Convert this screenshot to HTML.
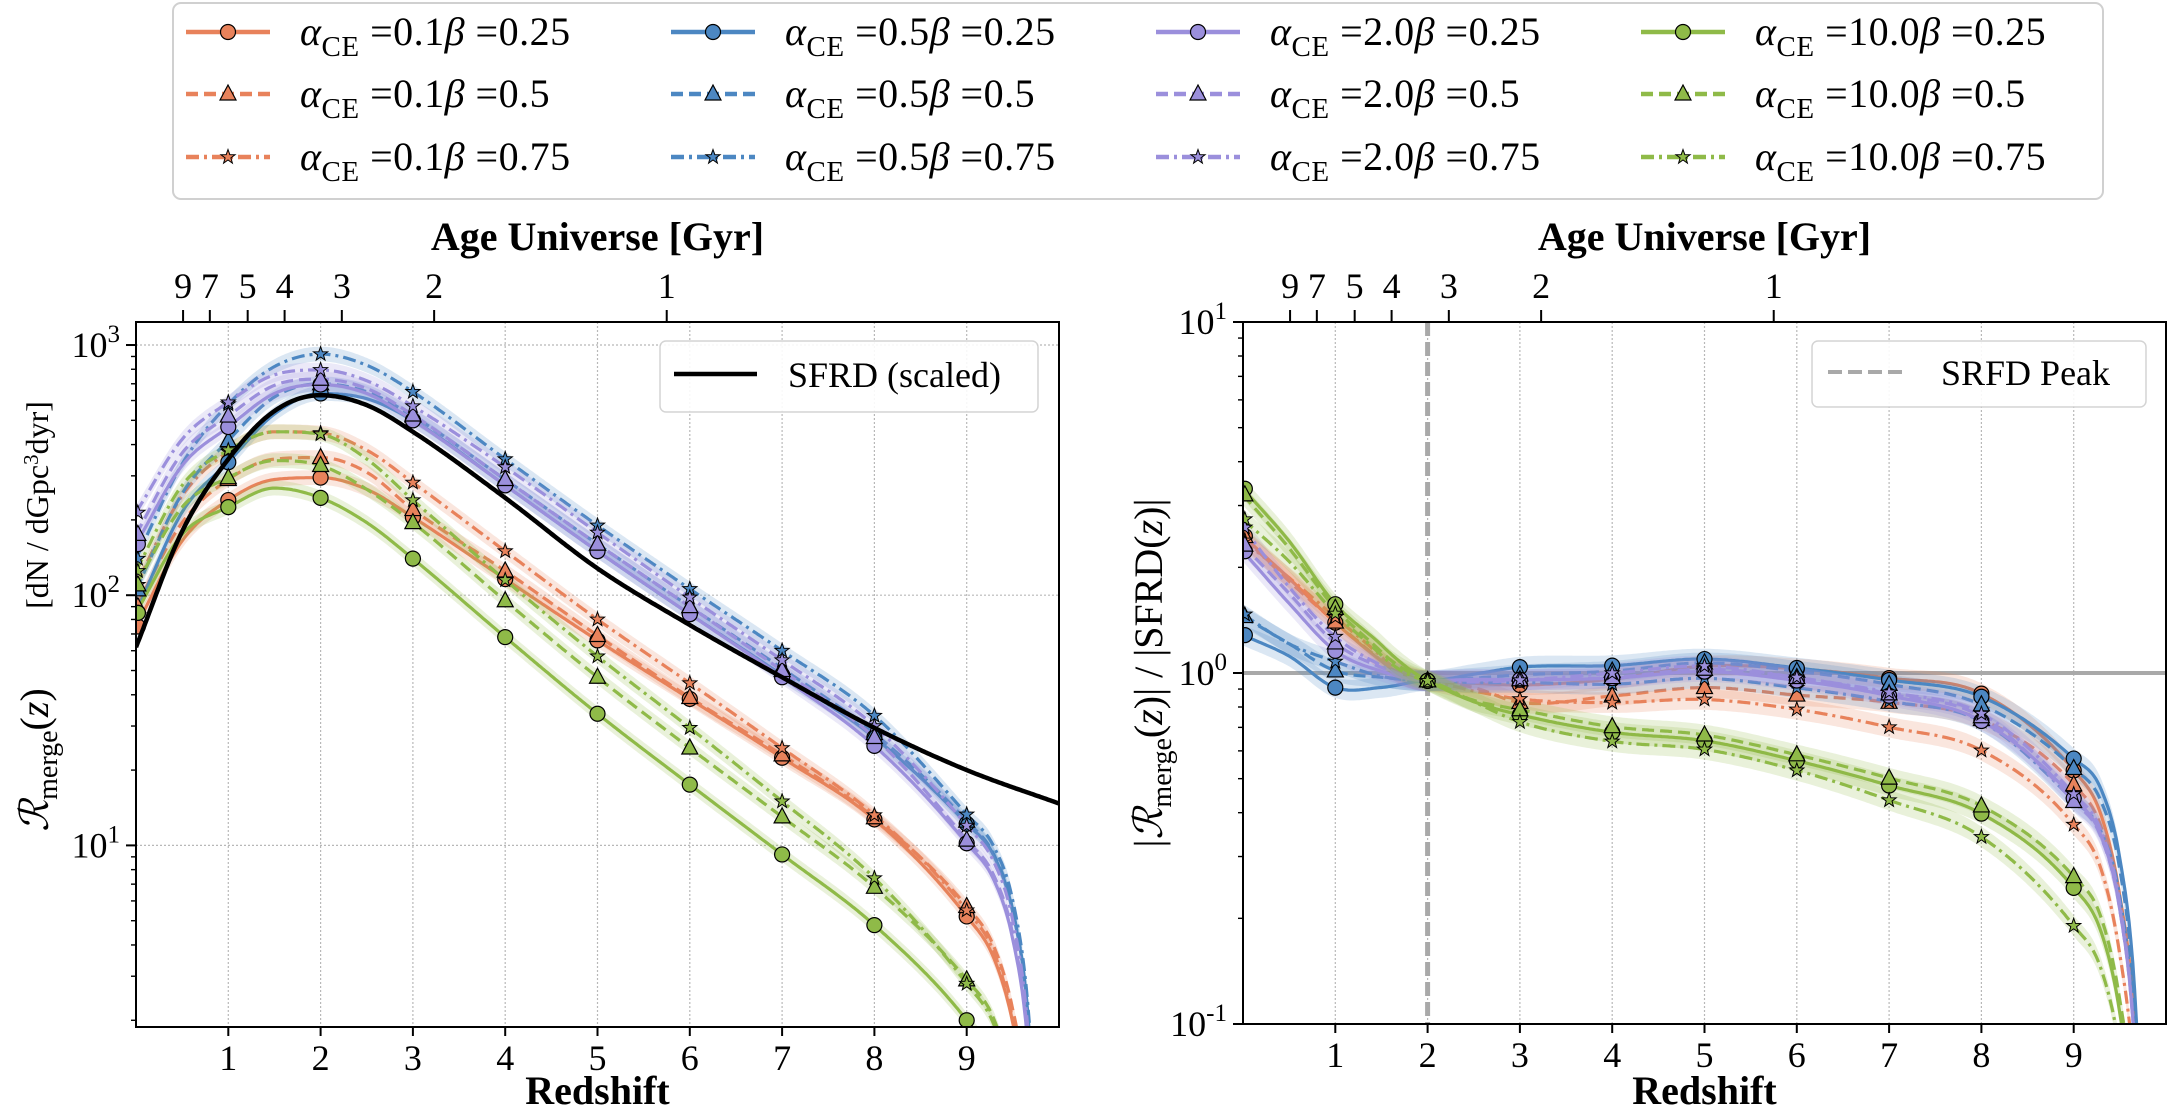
<!DOCTYPE html>
<html><head><meta charset="utf-8"><style>
html,body{margin:0;padding:0;background:#fff;width:2167px;height:1120px;overflow:hidden;}
svg{display:block;font-family:"Liberation Serif",serif;}
</style></head><body>
<svg id="chart" width="2167" height="1120" viewBox="0 0 2167 1120" xmlns="http://www.w3.org/2000/svg">
<defs>
<clipPath id="clipL"><rect x="136" y="322" width="923" height="705"/></clipPath>
<clipPath id="clipR"><rect x="1243" y="322" width="923" height="702"/></clipPath>
</defs>
<g id="root"></g>
</svg>
<script>
// ---- data ----
const zGrid = [0,0.5,1,1.5,2,2.5,3,4,5,6,7,8,9,9.3,9.5,9.65,9.75];
const sfrdZ = [0,0.5,1,1.5,2,2.5,3,4,5,6,7,8,9,10];
const sfrdVals = [62,180,350,545,630,575,450,245,128,76,47,29.5,20,14.7];
const seriesNames = ['a0.1-b0.25','a0.1-b0.5','a0.1-b0.75','a0.5-b0.25','a0.5-b0.5','a0.5-b0.75','a2.0-b0.25','a2.0-b0.5','a2.0-b0.75','a10.0-b0.25','a10.0-b0.5','a10.0-b0.75'];
const orange025 = [75,165,240,290,295,265,205,116,66,38.5,22.4,12.7,5.2,3.5,1.95,0.9,0.3];
const orange050 = [90,195,290,350,355,310,220,125,69,39,23,12.9,5.7,3.9,2.2,1.0,0.3];
const orange075 = [110,250,375,450,445,380,282,150,80,44.5,24.5,13.2,5.5,3.7,2.0,0.9,0.3];
const blue025 = [85,215,340,530,640,610,500,275,150,84,48,27,12.2,9,5.4,2.4,0.7];
const blue050 = [105,255,415,620,700,650,520,290,160,90,51,28,12.5,9.1,5.5,2.4,0.7];
const blue075 = [140,335,580,820,920,830,650,350,190,106,60,33,13.3,9.8,6,2.6,0.8];
const purple025 = [160,330,470,640,695,640,500,275,150,84,47,25,10.2,7.2,4.2,1.8,0.5];
const purple050 = [175,370,520,690,730,670,525,290,160,90,50,27,10.5,7.5,4.4,1.9,0.55];
const purple075 = [214,420,590,760,795,720,570,325,178,98,55,30,12,8.5,5,2.1,0.6];
const green025 = [85,175,225,268,245,195,140,68,33.6,17.5,9.2,4.8,2.0,1.35,0.75,0.33,0.1];
const green050 = [110,225,295,345,330,265,195,95,47,24.5,13,6.8,2.9,2.0,1.1,0.5,0.15];
const green075 = [125,275,380,450,440,350,240,115,57,29.5,15,7.4,2.8,1.9,1.05,0.45,0.13];
const markerZ = [1,2,3,4,5,6,7,8,9];
const ageLabels = ['9','7','5','4','3','2','1'];
const ageZ = [0.51,0.80,1.21,1.61,2.23,3.23,5.75];
const xTicks = [1,2,3,4,5,6,7,8,9];
const ratioNorm = 0.95;

const COLORS = {o:'#e8825b', b:'#4c87c2', p:'#9b8fdc', g:'#8fba48'};
const groups = [
 {key:'o', label:'0.1', vals:[orange025,orange050,orange075]},
 {key:'b', label:'0.5', vals:[blue025,blue050,blue075]},
 {key:'p', label:'2.0', vals:[purple025,purple050,purple075]},
 {key:'g', label:'10.0', vals:[green025,green050,green075]}
];
const betas = ['0.25','0.5','0.75'];
const dashes = ['', '12,6', '13,5,3,5'];
const shapes = ['circle','triangle','star'];

// ---- axes ----
const L = {x0:136, x1:1059, y0:1027, y1:322, lmin:Math.log10(1.88), lmax:3.092};
const R = {x0:1243, x1:2166, y0:1024, y1:322, lmin:-1, lmax:1};
const xs = (A,z)=>A.x0 + (z/10)*(A.x1-A.x0);
const ys = (A,v)=>A.y0 - (Math.log10(v)-A.lmin)/(A.lmax-A.lmin)*(A.y0-A.y1);

const NS='http://www.w3.org/2000/svg';
const root=document.getElementById('root');
function el(tag, attrs, parent){const e=document.createElementNS(NS,tag);for(const k in attrs)e.setAttribute(k,attrs[k]);(parent||root).appendChild(e);return e;}

function interp(X,Y){
 const n=X.length, ly=Y.map(v=>Math.log10(v)), d=[], m=[];
 for(let i=0;i<n-1;i++) d.push((ly[i+1]-ly[i])/(X[i+1]-X[i]));
 m[0]=d[0]; m[n-1]=d[n-2];
 for(let i=1;i<n-1;i++){ m[i]= (d[i-1]*d[i]<=0)?0:(d[i-1]+d[i])/2; }
 for(let i=0;i<n-1;i++){ if(d[i]===0){m[i]=m[i+1]=0;continue;} const a=m[i]/d[i], b=m[i+1]/d[i], s=a*a+b*b; if(s>9){const t=3/Math.sqrt(s); m[i]=t*a*d[i]; m[i+1]=t*b*d[i];} }
 return z=>{ let i=0; while(i<n-2 && z>X[i+1]) i++; const h=X[i+1]-X[i], t=(z-X[i])/h, t2=t*t, t3=t2*t;
  const v=(2*t3-3*t2+1)*ly[i]+(t3-2*t2+t)*h*m[i]+(-2*t3+3*t2)*ly[i+1]+(t3-t2)*h*m[i+1]; return Math.pow(10,v); };
}
const sfrdF = interp(sfrdZ, sfrdVals);
const zmaxS = zGrid[zGrid.length-1];
function samples(zmax){const a=[];for(let z=0;z<=zmax+1e-9;z+=0.02)a.push(z);return a;}

function marker(shape, cx, cy, color, parent, name){
 let e;
 if(shape==='circle') e=el('circle',{cx:cx,cy:cy,r:7.5,fill:color,stroke:'#000','stroke-width':1.2},parent);
 else if(shape==='triangle') e=el('polygon',{points:`${cx},${cy-9} ${cx-8},${cy+6} ${cx+8},${cy+6}`,fill:color,stroke:'#000','stroke-width':1.2},parent);
 else { const p=[]; for(let k=0;k<10;k++){const r=k%2?3:7.5, a=-Math.PI/2+k*Math.PI/5; p.push((cx+r*Math.cos(a)).toFixed(1)+','+(cy+r*Math.sin(a)).toFixed(1));}
  e=el('polygon',{points:p.join(' '),fill:color,stroke:'#000','stroke-width':1},parent); }
 
 
 return e;
}

function axisFrame(A, side){
 const g=el('g',{});
 
 
 xTicks.forEach(t=>{ const l=el('line',{x1:xs(A,t),x2:xs(A,t),y1:A.y1,y2:A.y0,stroke:'#b8b8b8','stroke-width':1.2,'stroke-dasharray':'2,2'},g);
  
   });
 xTicks.forEach(t=>{ el('line',{x1:xs(A,t),x2:xs(A,t),y1:A.y0,y2:A.y0+9,stroke:'#000','stroke-width':2},g);
  const tx=el('text',{x:xs(A,t),y:A.y0+43,'font-size':36,'text-anchor':'middle'},g); tx.textContent=t;
  
   });
 ageZ.forEach((z,i)=>{ el('line',{x1:xs(A,z),x2:xs(A,z),y1:A.y1,y2:A.y1-12,stroke:'#000','stroke-width':2},g);
  const tx=el('text',{x:xs(A,z),y:A.y1-24,'font-size':36,'text-anchor':'middle'},g); tx.textContent=ageLabels[i];
  
   });
 for(let k=Math.floor(A.lmin);k<=Math.ceil(A.lmax);k++){
  for(let m=1;m<10;m++){ const v=m*Math.pow(10,k), lv=Math.log10(v); if(lv<A.lmin-1e-6||lv>A.lmax+1e-6) continue;
   const y=ys(A,v); el('line',{x1:A.x0,x2:A.x0-(m===1?10:5),y1:y,y2:y,stroke:'#000','stroke-width':m===1?2:1.4},g);
   if(m===1){ const tx=el('text',{x:A.x0-16,y:y+12,'font-size':36,'text-anchor':'end'},g);
    tx.innerHTML='10<tspan dy="-15" font-size="25">'+k+'</tspan>';
    
     }
  }
 }
 const xl=el('text',{x:(A.x0+A.x1)/2,y:1104,'font-size':40,'font-weight':'bold','text-anchor':'middle'},g); xl.textContent='Redshift';
 
 
 const tl=el('text',{x:(A.x0+A.x1)/2,y:250,'font-size':40,'font-weight':'bold','text-anchor':'middle'},g); tl.textContent='Age Universe [Gyr]';
 
 
 return g;
}

axisFrame(L,'left');
axisFrame(R,'right');
[10,100,1000].forEach(v=>{ const l=el('line',{x1:L.x0,x2:L.x1,y1:ys(L,v),y2:ys(L,v),stroke:'#b8b8b8','stroke-width':1.2,'stroke-dasharray':'2,2'});
 
  });

const ref1=el('line',{x1:R.x0,x2:R.x1,y1:ys(R,1),y2:ys(R,1),stroke:'#a9a9a9','stroke-width':4});


const peak=el('line',{x1:xs(R,2),x2:xs(R,2),y1:R.y1,y2:R.y0,stroke:'#a9a9a9','stroke-width':5,'stroke-dasharray':'14,6'});



const gL=el('g',{'clip-path':'url(#clipL)'});


const gR=el('g',{'clip-path':'url(#clipR)'});



const s2 = sfrdF(2);
const zs = samples(zmaxS);
groups.forEach(G=>{
 const color=COLORS[G.key];
 G.vals.forEach((vals,bi)=>{
  const f=interp(zGrid,vals), r2=f(2);
  const ratio=z=>ratioNorm*(f(z)/r2)/(sfrdF(z)/s2);
  [[L,gL,f,'left'],[R,gR,ratio,'right']].forEach(([A,g,fn,side])=>{
   const up=zs.map(z=>xs(A,z).toFixed(1)+','+ys(A,fn(z)*1.07).toFixed(1));
   const dn=zs.slice().reverse().map(z=>xs(A,z).toFixed(1)+','+ys(A,fn(z)/1.07).toFixed(1));
   const band=el('polygon',{points:up.concat(dn).join(' '),fill:color,opacity:0.2},g);
   
   
   const pl=el('polyline',{points:zs.map(z=>xs(A,z).toFixed(1)+','+ys(A,fn(z)).toFixed(1)).join(' '),fill:'none',stroke:color,'stroke-width':3.2,'stroke-dasharray':dashes[bi]},g);
   
   
  });
 });
});
groups.forEach(G=>{
 const color=COLORS[G.key];
 G.vals.forEach((vals,bi)=>{
  const f=interp(zGrid,vals), r2=f(2);
  [0].concat(markerZ).forEach(z=>{
   const zz = z===0?0.02:z;
   marker(shapes[bi], xs(L,zz), ys(L,f(z)), color, gL, 'left-marker');
   marker(shapes[bi], xs(R,zz), ys(R,ratioNorm*(f(z)/r2)/(sfrdF(z)/s2)), color, gR, 'right-marker');
  });
 });
});
const zsS=samples(10);
const sl=el('polyline',{points:zsS.map(z=>xs(L,z).toFixed(1)+','+ys(L,sfrdF(z)).toFixed(1)).join(' '),fill:'none',stroke:'#000','stroke-width':4.5},gL);



[L,R].forEach((A,i)=>{ const f=el('rect',{x:A.x0,y:A.y1,width:A.x1-A.x0,height:A.y0-A.y1,fill:'none',stroke:'#000','stroke-width':2});
 
  });

const lg1=el('g',{});


el('rect',{x:660,y:341,width:378,height:71,rx:6,fill:'#fff',stroke:'#d0d0d0','stroke-width':1.5,opacity:0.9},lg1);
el('line',{x1:674,x2:757,y1:374,y2:374,stroke:'#000','stroke-width':4.5},lg1);
const lt1=el('text',{x:788,y:387,'font-size':36},lg1); lt1.textContent='SFRD (scaled)';
const lg2=el('g',{});


el('rect',{x:1812,y:341,width:334,height:66,rx:6,fill:'#fff',stroke:'#d0d0d0','stroke-width':1.5,opacity:0.9},lg2);
el('line',{x1:1828,x2:1905,y1:372,y2:372,stroke:'#a9a9a9','stroke-width':4,'stroke-dasharray':'14,6'},lg2);
const lt2=el('text',{x:1941,y:385,'font-size':36},lg2); lt2.textContent='SRFD Peak';

const yt1=el('text',{transform:'translate(48,760) rotate(-90)','font-size':40,'text-anchor':'middle'});
yt1.innerHTML='<tspan font-style="italic">ℛ</tspan><tspan font-size="28" dy="9">merge</tspan><tspan dy="-9">(</tspan><tspan font-style="italic">z</tspan>)';


const yt1b=el('text',{transform:'translate(48,505) rotate(-90)','font-size':32,'text-anchor':'middle'});
yt1b.innerHTML='[dN / dGpc<tspan dy="-10" font-size="21">3</tspan><tspan dy="10">dyr]</tspan>';


const yt2=el('text',{transform:'translate(1162,673) rotate(-90)','font-size':40,'text-anchor':'middle'});
yt2.innerHTML='|<tspan font-style="italic">ℛ</tspan><tspan font-size="28" dy="9">merge</tspan><tspan dy="-9">(</tspan><tspan font-style="italic">z</tspan>)|   /   |SFRD(<tspan font-style="italic">z</tspan>)|';



const lg=el('g',{});


el('rect',{x:173,y:3,width:1930,height:196,rx:8,fill:'#fff',stroke:'#d0d0d0','stroke-width':2},lg);
const rowsY=[32,94,157];
groups.forEach((G,ci)=>{
 const hx=186+ci*485;
 betas.forEach((b,bi)=>{
  const y=rowsY[bi];
  const ent=el('g',{},lg);
  
  
  el('line',{x1:hx,x2:hx+84,y1:y,y2:y,stroke:COLORS[G.key],'stroke-width':4.5,'stroke-dasharray':dashes[bi]},ent);
  marker(shapes[bi], hx+42, y, COLORS[G.key], ent, 'legend-marker');
  const t=el('text',{x:hx+114,y:y+13,'font-size':40,'letter-spacing':'0.5'},ent);
  t.innerHTML='<tspan font-style="italic">α</tspan><tspan font-size="29" dy="11">CE</tspan><tspan dy="-11"> =</tspan>'+G.label+'<tspan font-style="italic">β</tspan> ='+b;
 });
});
</script>
</body></html>
